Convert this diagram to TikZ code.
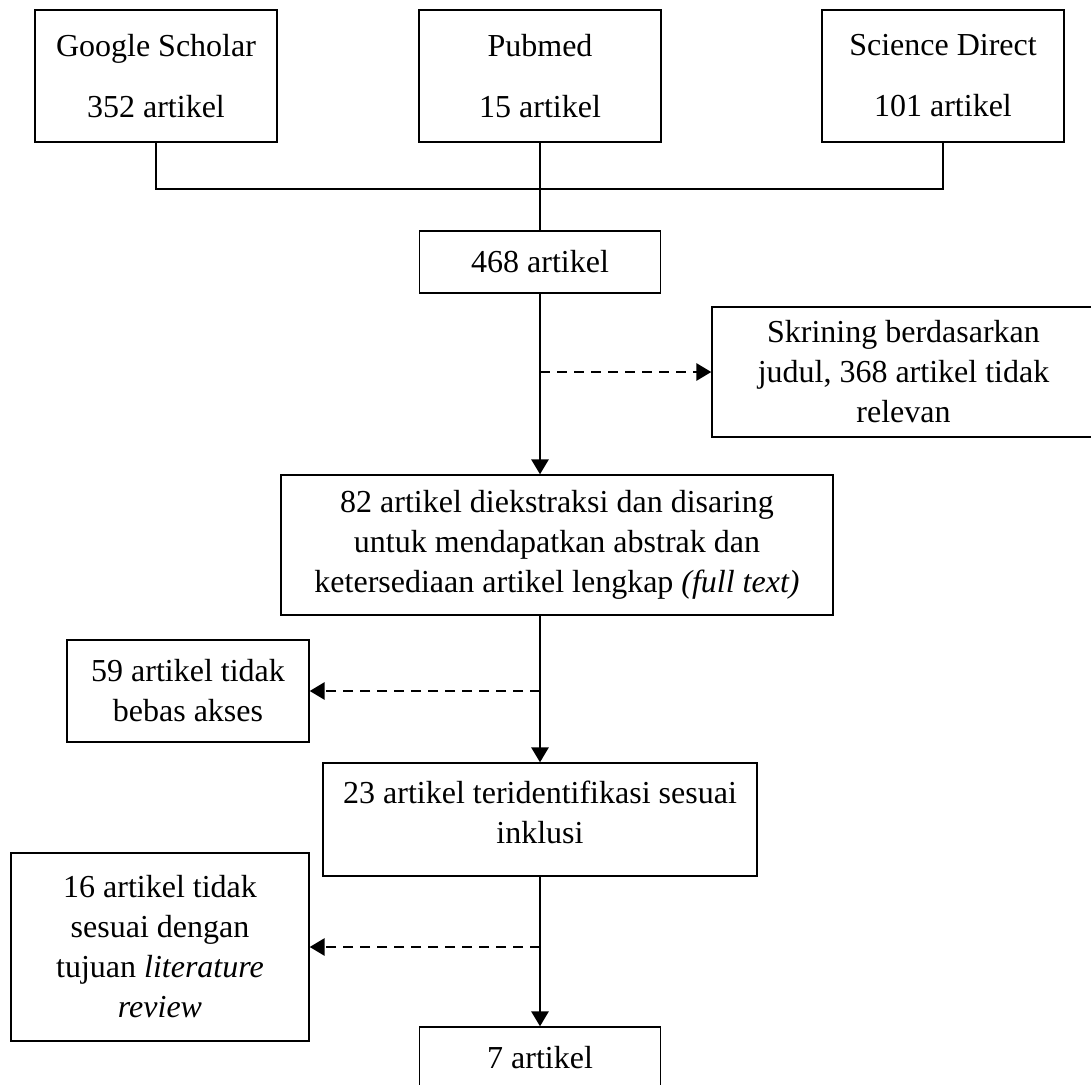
\documentclass[tikz,border=0pt]{standalone}
\usepackage{fontspec}
\setmainfont{Liberation Serif}
\usetikzlibrary{arrows.meta}

\begin{document}
\begin{tikzpicture}[x=1pt,y=-1pt,font=\fontsize{32}{40}\selectfont,
  kotak/.style={draw,line width=1.3pt,align=center,inner sep=0pt},
  garis/.style={line width=2.2pt},
  alir/.style={line width=2.9pt,-{Triangle[length=15pt,width=17pt]}},
  saring/.style={alir,dash pattern=on 10pt off 7pt}]
  \useasboundingbox (0,0) rectangle (1091,1084);
  \clip (0,0) rectangle (1091,1084);
  \foreach \x/\nama/\sumber/\jumlah in {
    156/gs/Google Scholar/352,
    540/pm/Pubmed/15,
    943/sd/Science Direct/101} {
    \node[kotak,minimum width=242pt,minimum height=132pt] (\nama) at (\x,76) {\sumber\\[21pt]\jumlah{} artikel};
  }
  \node[kotak,minimum width=241pt,minimum height=62pt] (n468) at (540,262) {468 artikel};
  \node[kotak,minimum width=383pt,minimum height=130pt] (skr) at (903.5,372)
    {Skrining berdasarkan\\judul, 368 artikel tidak\\relevan};
  \node[kotak,minimum width=552pt,minimum height=140pt] (n82) at (557,545)
    {82 artikel diekstraksi dan disaring\\untuk mendapatkan abstrak dan\\ketersediaan artikel lengkap \textit{(full text)}};
  \node[kotak,minimum width=242pt,minimum height=102pt] (akses) at (188,691) {59 artikel tidak\\bebas akses};
  \node[kotak,minimum width=434pt,minimum height=113pt,text depth=14pt] (n23) at (540,819.5)
    {23 artikel teridentifikasi sesuai\\inklusi};
  \node[kotak,minimum width=298pt,minimum height=188pt] (tujuan) at (160,947)
    {16 artikel tidak\\sesuai dengan\\tujuan \textit{literature}\\\textit{review}};
  \node[kotak,minimum width=241pt,minimum height=62pt] (n7) at (540,1058) {7 artikel};

  \coordinate (simpul) at (540,189);
  \draw[garis] (gs.south) |- (simpul) -| (sd.south);
  \draw[garis] (pm.south) -- (simpul) -- (n468.north);
  \draw[alir] (n468.south) -- (n468.south |- n82.north);
  \draw[saring] (n468.south |- skr.west) -- (skr.west);
  \draw[alir] (n82.south -| n23.north) -- (n23.north);
  \draw[saring] (n23.north |- akses.east) -- (akses.east);
  \draw[alir] (n23.south) -- (n7.north);
  \draw[saring] (n23.south |- tujuan.east) -- (tujuan.east);
\end{tikzpicture}
\end{document}
